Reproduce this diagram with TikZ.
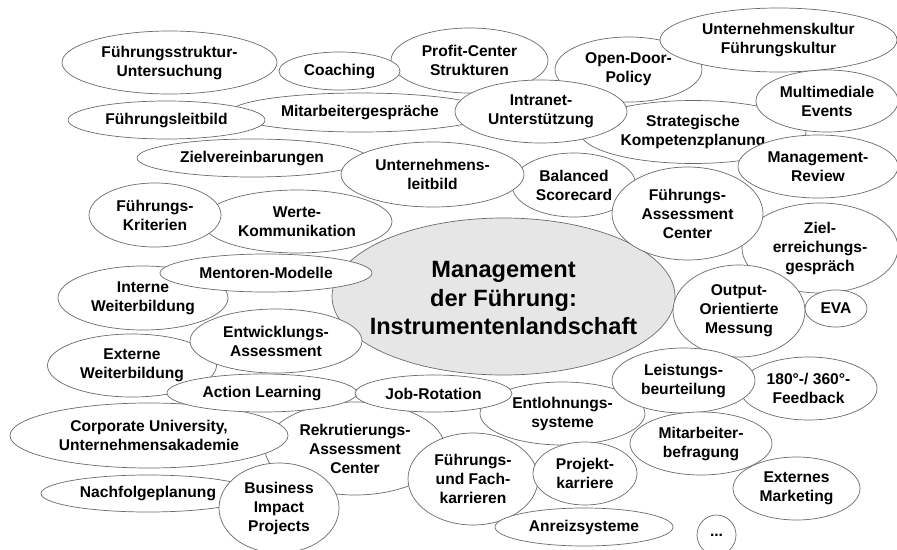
\documentclass[tikz,border=0pt]{standalone}
\usepackage{fontspec}
\setmainfont{Liberation Sans}
\usetikzlibrary{shapes.geometric}
\definecolor{rim}{HTML}{6A6A6A}
\definecolor{hubfill}{HTML}{E6E6E6}
\tikzset{
  bub/.style={ellipse, draw=rim, line width=0.7pt, fill=white, inner sep=0pt,
    align=center, font=\fontsize{15.6}{19}\selectfont\bfseries},
  sz/.style 2 args={minimum width=#1pt, minimum height=#2pt},
  hub/.style={bub, fill=hubfill},
  hubtext/.style={align=center, inner sep=0pt, font=\fontsize{23.6}{28.5}\selectfont\bfseries},
}
\begin{document}
\begin{tikzpicture}[x=1pt,y=-1pt]
\useasboundingbox (0,0) rectangle (897,549);
% top rows
\node[bub, sz={215}{63}] (struktur) at (169.5,62.5) {Führungsstruktur-\\Untersuchung};
\node[bub, sz={157}{65}] (profit) at (469.5,60.5) {Profit-Center\\Strukturen};
\node[bub, sz={121}{38}] (coaching) at (339.5,71) {Coaching};
\node[bub, sz={260}{39}] (gespraech) at (360,112.5) {Mitarbeitergespräche};
\node[bub, sz={197}{38}] (leitbild) at (166.5,120) {Führungsleitbild};
\node[bub, sz={230}{38}] (zielv) at (252,158) {Zielvereinbarungen};
\node[bub, sz={226}{63}] (strategie) at (693,132) {Strategische\\Kompetenzplanung};
\node[bub, sz={147}{65}] (opendoor) at (628.5,69.5) {Open-Door-\\Policy};
\node[bub, sz={237}{64}] (kultur) at (778.5,40) {Unternehmenskultur\\Führungskultur};
\node[bub, sz={142}{62}] (events) at (827,101) {Multimediale\\Events};
\node[bub, sz={172}{63}] (intranet) at (541,111.5) {Intranet-\\Unterstützung};
\node[bub, sz={124}{64}] (scorecard) at (574,185) {Balanced\\Scorecard};
\node[bub, sz={183}{65}] (unleitbild) at (432.5,174.5) {Unternehmens-\\leitbild};
\node[bub, sz={190}{63}] (werte) at (297,221.5) {Werte-\\Kommunikation};
\node[bub, sz={132}{64}] (kriterien) at (155,215) {Führungs-\\Kriterien};
% centre
\node[hub, sz={343}{157}] (hub) at (503.5,296.5) {};
\node[hubtext] (hublabel) at (503.5,298) {Management\\der Führung:\\Instrumentenlandschaft};
% right side
\node[bub, sz={160}{63}] (review) at (818,166.5) {Management-\\Review};
\node[bub, sz={156}{90}] (zielerr) at (820,248) {Ziel-\\erreichungs-\\gespräch};
\node[bub, sz={151}{93}] (fac) at (687.5,213.5) {Führungs-\\Assessment\\Center};
\node[bub, sz={132}{92}] (output) at (739,311) {Output-\\Orientierte\\Messung};
\node[bub, sz={62}{37}] (eva) at (836,308.5) {EVA};
% left side
\node[bub, sz={170}{64}] (intern) at (143,298) {Interne\\Weiterbildung};
\node[bub, sz={212}{38}] (mentoren) at (266,273) {Mentoren-Modelle};
\node[bub, sz={169}{63}] (extern) at (132,365.5) {Externe\\Weiterbildung};
\node[bub, sz={172}{64}] (entwicklung) at (276,341) {Entwicklungs-\\Assessment};
% bottom rows
\node[bub, sz={180}{93}] (rekrut) at (355,448.5) {Rekrutierungs-\\Assessment\\Center};
\node[bub, sz={278}{65}] (corporate) at (149,435.5) {Corporate University,\\Unternehmensakademie};
\node[bub, sz={190}{38}] (action) at (262,393) {Action Learning};
\node[bub, sz={165}{63}] (entlohnung) at (562.5,413.5) {Entlohnungs-\\systeme};
\node[bub, sz={157}{37}] (rotation) at (433.5,393.5) {Job-Rotation};
\node[bub, sz={137}{63}] (feedback) at (808.5,388.5) {180°-/ 360°-\\Feedback};
\node[bub, sz={143}{65}] (leistung) at (683.5,380.5) {Leistungs-\\beurteilung};
\node[bub, sz={127}{63}] (marketing) at (796.5,488.5) {Externes\\Marketing};
\node[bub, sz={142}{63}] (befragung) at (701,443.5) {Mitarbeiter-\\befragung};
\node[bub, sz={214}{37}] (nachfolge) at (148,493.5) {Nachfolgeplanung};
\node[bub, sz={120}{90}] (impact) at (279,508) {Business\\Impact\\Projects};
\node[bub, sz={130}{92}] (fachkarriere) at (473,479) {Führungs-\\und Fach-\\karrieren};
\node[bub, sz={104}{63}] (projekt) at (585,473.5) {Projekt-\\karriere};
\node[bub, sz={178}{38}] (anreiz) at (584,527) {Anreizsysteme};
\node[bub, sz={39}{40}] (more) at (716.5,535) {...};
\end{tikzpicture}
\end{document}
